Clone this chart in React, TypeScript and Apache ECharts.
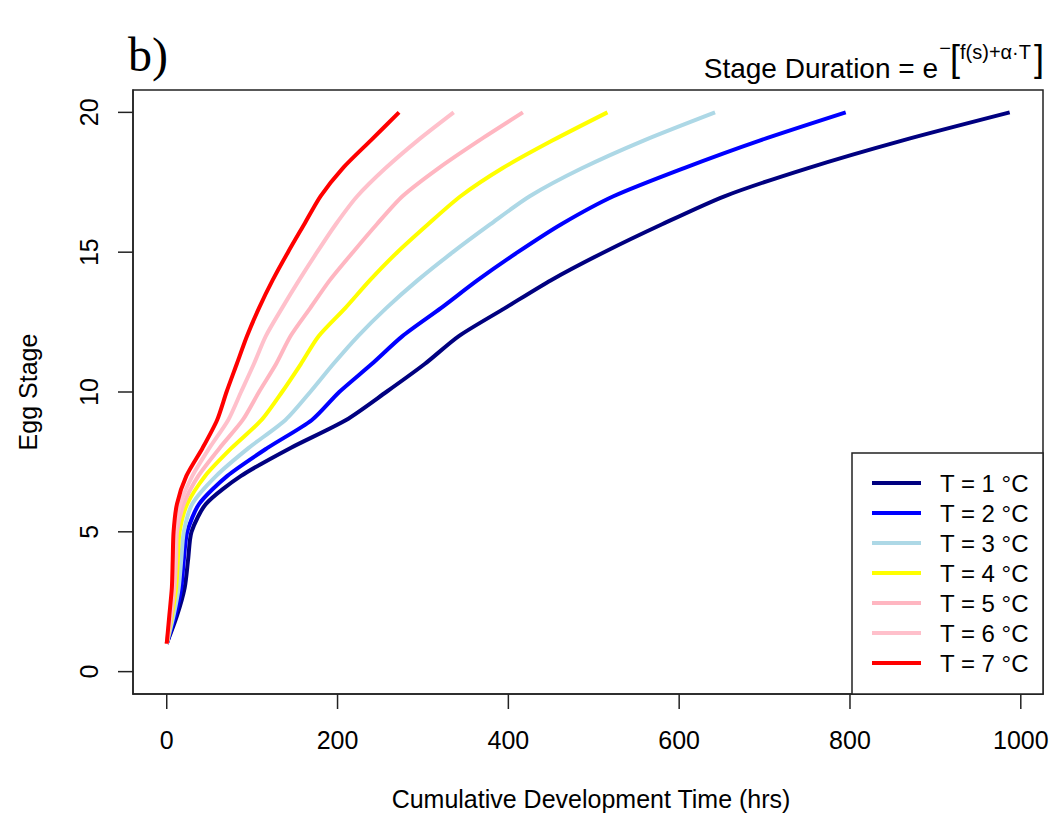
import React, { useEffect, useRef } from "react";
import * as echarts from "echarts";

// Egg stage (y) reached at each cumulative development time (x, hrs)
const stages = [1, 2, 3, 4, 5, 6, 7, 8, 9, 10, 11, 12, 13, 14, 15, 16, 17, 18, 19, 20];

const timeT1 = [0, 12, 21, 25, 29, 46, 87, 145, 210, 257, 302, 342, 396, 450, 512, 580, 653, 750, 862, 987];
const timeT2 = [0, 10, 17, 20, 24, 38, 71, 118, 170, 202, 240, 276, 321, 364, 411, 462, 523, 605, 695, 795];
const timeT3 = [0, 8, 14, 17, 20, 30, 58, 96, 139, 168, 195, 224, 257, 294, 335, 379, 425, 486, 559, 642];
const timeT4 = [0, 6, 11, 13, 15, 24, 45, 76, 111, 135, 157, 178, 209, 238, 270, 306, 344, 393, 452, 516];
const timeT5 = [0, 5, 9, 11, 12, 20, 37, 62, 89, 108, 128, 145, 168, 191, 218, 246, 276, 318, 366, 417];
const timeT6 = [0, 4, 7, 9, 10, 16, 30, 50, 72, 87, 102, 116, 135, 155, 176, 198, 223, 256, 294, 336];
const timeT7 = [0, 3, 6, 7, 8, 12, 23, 42, 59, 70, 82, 94, 108, 124, 142, 161, 180, 206, 239, 272];

const seriesNames = ["T = 1 °C", "T = 2 °C", "T = 3 °C", "T = 4 °C", "T = 5 °C", "T = 6 °C", "T = 7 °C"];
const seriesTimes = [timeT1, timeT2, timeT3, timeT4, timeT5, timeT6, timeT7];
const seriesColors = ["#000080", "#0000FF", "#ADD8E6", "#FFFF00", "#FFB6C1", "#FFC0CB", "#FF0000"];

const xTicks = [0, 200, 400, 600, 800, 1000];
const yTicks = [0, 5, 10, 15, 20];
const X_MIN = -39.5;
const X_MAX = 1026;
const Y_MIN = -0.8;
const Y_MAX = 20.8;

const FONT = "'Liberation Sans', Arial, Helvetica, sans-serif";

export default function App() {
  const ref = useRef<HTMLDivElement>(null);

  useEffect(() => {
    if (!ref.current) return;
    const chart = echarts.init(ref.current, undefined, { renderer: "svg" });

    const series = seriesTimes.map((times, k) => ({
      name: seriesNames[k],
      type: "line",
      data: times.map((t, i) => [t, stages[i]]),
      symbol: "none",
      showSymbol: false,
      smooth: 0.25,
      lineStyle: { color: seriesColors[k], width: 4 },
      itemStyle: { color: seriesColors[k] },
      z: 2 + k,
    }));

    // legend drawn as graphics (R-style boxed legend)
    const legendLeft = 852;
    const legendTop = 453;
    const legendRight = 1043;
    const legendBottom = 694;
    const legendEls: any[] = [
      {
        type: "rect",
        shape: { x: legendLeft, y: legendTop, width: legendRight - legendLeft, height: legendBottom - legendTop },
        style: { fill: "#fff", stroke: "#222", lineWidth: 1.5 },
        z: 50,
      },
    ];
    seriesNames.forEach((name, i) => {
      const y = 483 + i * 30;
      legendEls.push({
        type: "line",
        shape: { x1: 872, y1: y, x2: 921, y2: y },
        style: { stroke: seriesColors[i], lineWidth: 4 },
        z: 51,
      });
      legendEls.push({
        type: "text",
        x: 940,
        y: y,
        style: {
          text: name,
          fill: "#000",
          font: `24px ${FONT}`,
          align: "left",
          verticalAlign: "middle",
        },
        z: 51,
      });
    });

    const axisCommon = {
      type: "value",
      axisLine: { show: true, onZero: false, lineStyle: { color: "#222", width: 1.5 } },
      axisTick: { show: false },
      splitLine: { show: false },
    };

    const baseGraphics: any[] = [
      {
        type: "text",
        x: 128,
        y: 54,
        style: {
          text: "b)",
          fill: "#000",
          font: "48px 'Liberation Serif', 'Times New Roman', serif",
          align: "left",
          verticalAlign: "middle",
        },
      },
      {
        type: "text",
        x: 938,
        y: 68,
        style: {
          text: "Stage Duration = e",
          fill: "#000",
          font: `28px ${FONT}`,
          align: "right",
          verticalAlign: "middle",
        },
      },
      {
        type: "text",
        x: 945,
        y: 48,
        style: { text: "−", fill: "#000", font: `20px ${FONT}`, align: "center", verticalAlign: "middle" },
      },
      {
        type: "text",
        x: 955,
        y: 58,
        style: { text: "[", fill: "#000", font: `36px ${FONT}`, align: "center", verticalAlign: "middle" },
      },
      {
        type: "text",
        x: 960,
        y: 52,
        style: { text: "f(s)+α·T", fill: "#000", font: `20px ${FONT}`, align: "left", verticalAlign: "middle" },
      },
      {
        type: "text",
        x: 1039,
        y: 58,
        style: { text: "]", fill: "#000", font: `36px ${FONT}`, align: "center", verticalAlign: "middle" },
      },
      {
        type: "text",
        x: 28,
        y: 392,
        rotation: Math.PI / 2,
        style: {
          text: "Egg Stage",
          fill: "#000",
          font: `25px ${FONT}`,
          align: "center",
          verticalAlign: "middle",
        },
      },
      {
        type: "text",
        x: 591,
        y: 799,
        style: {
          text: "Cumulative Development Time (hrs)",
          fill: "#000",
          font: `25px ${FONT}`,
          align: "center",
          verticalAlign: "middle",
        },
      },
      ...legendEls,
    ];

    const option: any = {
      animation: false,
      backgroundColor: "#fff",
      grid: {
        left: 133,
        right: 9,
        top: 90,
        bottom: 121,
        show: true,
        borderColor: "#222",
        borderWidth: 1.5,
        backgroundColor: "transparent",
        containLabel: false,
      },
      xAxis: {
        ...axisCommon,
        min: X_MIN,
        max: X_MAX,
        axisLabel: {
          customValues: xTicks,
          margin: 33,
          fontSize: 25,
          fontFamily: FONT,
          color: "#000",
          formatter: (v: number) => String(v),
        },
      },
      yAxis: {
        ...axisCommon,
        min: Y_MIN,
        max: Y_MAX,
        axisLabel: {
          customValues: yTicks,
          rotate: 90,
          margin: 32,
          fontSize: 25,
          fontFamily: FONT,
          color: "#000",
          formatter: (v: number) => String(v),
        },
      },
      series,
      graphic: baseGraphics,
    };

    chart.setOption(option);

    // outward R-style tick marks, positioned through the chart's own scales
    const tickEls: any[] = [];
    xTicks.forEach((v) => {
      const p = chart.convertToPixel({ gridIndex: 0 }, [v, Y_MIN]) as number[];
      if (!p) return;
      tickEls.push({
        type: "line",
        shape: { x1: p[0], y1: p[1], x2: p[0], y2: p[1] + 15 },
        style: { stroke: "#222", lineWidth: 1.5 },
        z: 60,
      });
    });
    yTicks.forEach((v) => {
      const p = chart.convertToPixel({ gridIndex: 0 }, [X_MIN, v]) as number[];
      if (!p) return;
      tickEls.push({
        type: "line",
        shape: { x1: p[0] - 15, y1: p[1], x2: p[0], y2: p[1] },
        style: { stroke: "#222", lineWidth: 1.5 },
        z: 60,
      });
    });
    chart.setOption({ graphic: [...baseGraphics, ...tickEls] });

    return () => chart.dispose();
  }, []);

  return (
    <div
      ref={ref}
      style={{ position: "absolute", left: 0, top: 0, width: 1052, height: 815, background: "#fff" }}
    />
  );
}
